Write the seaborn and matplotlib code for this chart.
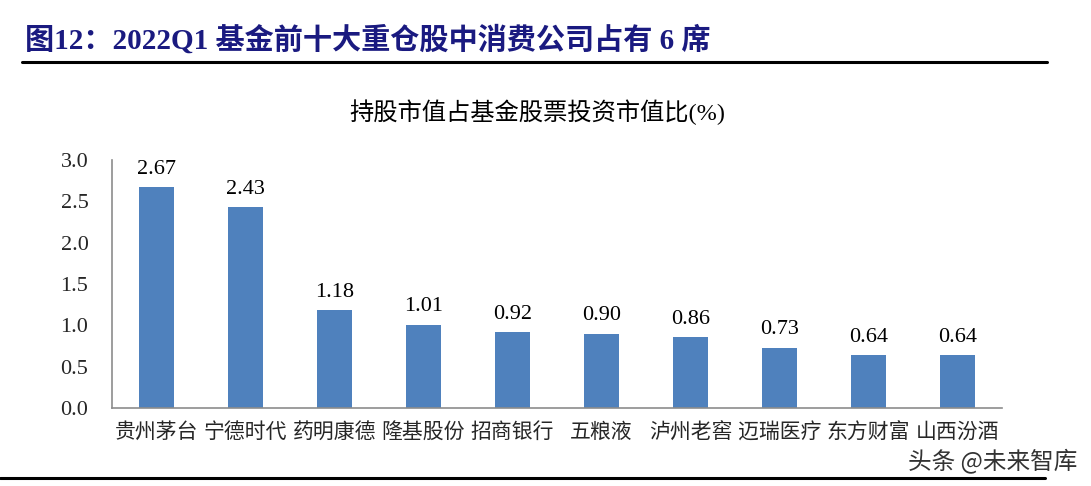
import matplotlib
matplotlib.use("Agg")
import matplotlib.pyplot as plt
import seaborn as sns
import pandas as pd
from matplotlib.lines import Line2D

companies = ["贵州茅台", "宁德时代", "药明康德", "隆基股份", "招商银行",
             "五粮液", "泸州老窖", "迈瑞医疗", "东方财富", "山西汾酒"]
values = [2.67, 2.43, 1.18, 1.01, 0.92, 0.90, 0.86, 0.73, 0.64, 0.64]
yticks = [0.0, 0.5, 1.0, 1.5, 2.0, 2.5, 3.0]

header = "图12：2022Q1 基金前十大重仓股中消费公司占有 6 席"
chart_title = "持股市值占基金股票投资市值比(%)"
watermark = "头条 @未来智库"

sns.set_theme(style="white")
FAM = ["Liberation Serif", "Noto Sans CJK SC"]
plt.rcParams["font.family"] = FAM

W, H = 1091, 486
fig = plt.figure(figsize=(W / 100, H / 100), dpi=100)
ax = fig.add_axes([112 / W, 1 - 408 / H, (1002 - 112) / W, (408 - 160) / H])

df = pd.DataFrame({"company": companies, "value": values})
sns.barplot(data=df, x="company", y="value", ax=ax, color="#4F81BD",
            saturation=1, width=0.4, edgecolor="none")

ax.set_ylim(0, 3.0)
ax.set_xlim(-0.5, len(companies) - 0.5)
ax.set_yticks(yticks)
ax.set_yticklabels([f"{v:.1f}" for v in yticks], fontsize=16, family=FAM)
ax.set_xlabel("")
ax.set_ylabel("")

# category boundary ticks
ax.set_xticks([i for i in range(len(companies))])
ax.set_xticklabels(companies, fontsize=15, family=FAM)
ax.set_xticks([i - 0.5 for i in range(len(companies) + 1)], minor=True)
ax.tick_params(axis="x", which="major", length=0, pad=11)
ax.tick_params(axis="x", which="minor", length=5, width=1, color="#8C8C8C", direction="out")
ax.tick_params(axis="y", which="major", length=5, width=1, color="#8C8C8C", direction="out", pad=12)

for s in ["top", "right"]:
    ax.spines[s].set_visible(False)
for s in ["left", "bottom"]:
    ax.spines[s].set_color("#8C8C8C")
    ax.spines[s].set_linewidth(1.2)

for i, v in enumerate(values):
    ax.annotate(f"{v:.2f}", (i, v), xytext=(0, 6), textcoords="offset points",
                ha="center", va="bottom", fontsize=16, family=FAM, color="black")

fig.text(25 / W, 1 - 40 / H, header, fontsize=21, fontweight="bold",
         color="#1A1A80", ha="left", va="center", family=FAM)
fig.add_artist(Line2D([22 / W, 1047 / W], [1 - 62 / H, 1 - 62 / H],
                      color="black", linewidth=2.2, transform=fig.transFigure))
fig.text(537 / W, 1 - 112 / H, chart_title, fontsize=17.5, color="black",
         ha="center", va="center", family=FAM)
fig.add_artist(Line2D([0, 1045 / W], [1 - 478 / H, 1 - 478 / H],
                      color="black", linewidth=2.2, transform=fig.transFigure))
fig.text(1077 / W, 1 - 461 / H, watermark, fontsize=17, color="#333333",
         ha="right", va="center", family=["Noto Sans CJK SC", "DejaVu Sans"])

fig.savefig("out.png", dpi=100)
